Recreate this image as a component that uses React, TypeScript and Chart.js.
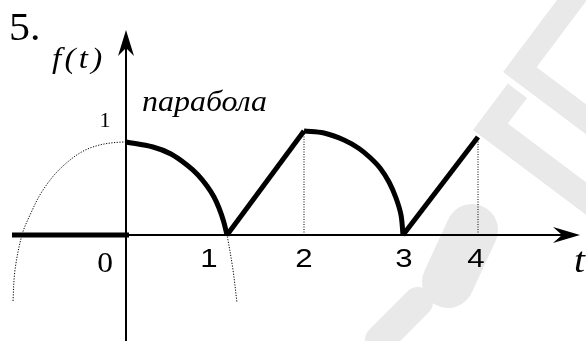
import { useEffect, useRef } from 'react';
import { Chart, registerables } from 'chart.js';

Chart.register(...registerables);

// ---- data (x, y in drawing units; t-ticks) ----
const TICK_POSITIONS = [0, 1.01, 1.78, 2.77, 3.52];
const TICK_LABELS = ['0', '1', '2', '3', '4'];
const Y_TICK_VALUE = 0.93;
const Y_TICK_LABEL = '1';

const ZERO_SEGMENT = [
  { x: -1.14, y: 0 },
  { x: 0.03, y: 0 },
];
const ARC_1 = [
  { x: 0, y: 0.93 },
  { x: 0.27, y: 0.88 },
  { x: 0.45, y: 0.81 },
  { x: 0.61, y: 0.7 },
  { x: 0.72, y: 0.6 },
  { x: 0.81, y: 0.49 },
  { x: 0.88, y: 0.38 },
  { x: 0.93, y: 0.27 },
  { x: 0.975, y: 0.14 },
  { x: 1.01, y: 0 },
];
const RAMP_1 = [
  { x: 1.01, y: 0 },
  { x: 1.78, y: 1.04 },
];
const ARC_2 = [
  { x: 1.78, y: 1.04 },
  { x: 1.98, y: 1.02 },
  { x: 2.18, y: 0.95 },
  { x: 2.33, y: 0.865 },
  { x: 2.44, y: 0.775 },
  { x: 2.54, y: 0.67 },
  { x: 2.63, y: 0.53 },
  { x: 2.7, y: 0.37 },
  { x: 2.75, y: 0.2 },
  { x: 2.77, y: 0 },
];
const RAMP_2 = [
  { x: 2.77, y: 0 },
  { x: 3.52, y: 0.98 },
];
const PARABOLA_DOTTED = [
  { x: -1.13, y: -0.66 },
  { x: -1.11, y: -0.35 },
  { x: -1.04, y: 0 },
  { x: -0.96, y: 0.2 },
  { x: -0.83, y: 0.45 },
  { x: -0.63, y: 0.69 },
  { x: -0.36, y: 0.87 },
  { x: 0, y: 0.93 },
  { x: 0.27, y: 0.88 },
  { x: 0.45, y: 0.81 },
  { x: 0.61, y: 0.7 },
  { x: 0.72, y: 0.6 },
  { x: 0.81, y: 0.49 },
  { x: 0.88, y: 0.38 },
  { x: 0.93, y: 0.27 },
  { x: 0.975, y: 0.14 },
  { x: 1.01, y: 0 },
  { x: 1.07, y: -0.35 },
  { x: 1.11, y: -0.68 },
];
const GUIDE_2 = [
  { x: 1.78, y: 0 },
  { x: 1.78, y: 1.04 },
];
const GUIDE_4 = [
  { x: 3.52, y: 0 },
  { x: 3.52, y: 0.98 },
];
const X_AXIS_RANGE = [-1.14, 4.54];
const Y_AXIS_RANGE = [-1.06, 2.05];

const SERIF = '"Liberation Serif", "Times New Roman", serif';
const SANS = '"Liberation Sans", Arial, sans-serif';

// ---- helpers ----
function drawText(
  ctx: CanvasRenderingContext2D,
  text: string,
  x: number,
  y: number,
  font: string,
  align: CanvasTextAlign,
  sx = 1,
  width?: number,
  spacing = 0,
) {
  ctx.save();
  ctx.font = font;
  ctx.fillStyle = '#000';
  ctx.textBaseline = 'alphabetic';
  ctx.textAlign = align;
  (ctx as any).letterSpacing = `${spacing}px`;
  let scaleX = sx;
  if (width) {
    const w = ctx.measureText(text).width;
    scaleX = width / w;
  }
  ctx.translate(x, y);
  ctx.scale(scaleX, 1);
  ctx.fillText(text, 0, 0);
  ctx.restore();
}

function lShape(
  ctx: CanvasRenderingContext2D,
  ox: number,
  oy: number,
  l1: number,
  l2: number,
  w1: number,
  w2: number,
) {
  const u = [0.6, -0.8];
  const d = [0.8, 0.6];
  const P = (a: number, b: number) => [ox + a * u[0] + b * d[0], oy + a * u[1] + b * d[1]];
  const pts = [P(0, 0), P(l1, 0), P(l1, w1), P(w2, w1), P(w2, l2), P(0, l2)];
  ctx.beginPath();
  ctx.moveTo(pts[0][0], pts[0][1]);
  for (let i = 1; i < pts.length; i++) ctx.lineTo(pts[i][0], pts[i][1]);
  ctx.closePath();
  ctx.fill();
}

const watermarkPlugin = {
  id: 'watermark',
  beforeDraw(chart: Chart) {
    const ctx = chart.ctx;
    ctx.save();
    ctx.fillStyle = '#e9e9e9';
    ctx.strokeStyle = '#e9e9e9';
    lShape(ctx, 503, 72, 110, 160, 24, 24);
    lShape(ctx, 473, 130, 58, 160, 24, 26);
    ctx.lineCap = 'round';
    ctx.lineWidth = 52;
    ctx.beginPath();
    ctx.moveTo(448, 282);
    ctx.lineTo(472, 230);
    ctx.stroke();
    ctx.lineWidth = 30;
    ctx.beginPath();
    ctx.moveTo(380, 340);
    ctx.lineTo(418, 302);
    ctx.stroke();
    ctx.restore();
  },
};

const axesPlugin = {
  id: 'axesArrows',
  beforeDatasetsDraw(chart: Chart) {
    const ctx = chart.ctx;
    const xs = chart.scales.x;
    const ys = chart.scales.y;
    const x0 = xs.getPixelForValue(0);
    const y0 = ys.getPixelForValue(0);
    const xa = xs.getPixelForValue(X_AXIS_RANGE[0]);
    const xb = xs.getPixelForValue(X_AXIS_RANGE[1]);
    const ya = ys.getPixelForValue(Y_AXIS_RANGE[0]);
    const yb = ys.getPixelForValue(Y_AXIS_RANGE[1]);
    ctx.save();
    ctx.strokeStyle = '#000';
    ctx.fillStyle = '#000';
    ctx.lineWidth = 2;
    ctx.beginPath();
    ctx.moveTo(xa, y0);
    ctx.lineTo(xb - 10, y0);
    ctx.moveTo(x0, ya);
    ctx.lineTo(x0, yb + 10);
    ctx.stroke();
    // x arrow head
    ctx.beginPath();
    ctx.moveTo(xb, y0);
    ctx.lineTo(xb - 27, y0 - 8);
    ctx.lineTo(xb - 18, y0);
    ctx.lineTo(xb - 27, y0 + 8);
    ctx.closePath();
    ctx.fill();
    // y arrow head
    ctx.beginPath();
    ctx.moveTo(x0, yb);
    ctx.lineTo(x0 - 8, yb + 26);
    ctx.lineTo(x0, yb + 18);
    ctx.lineTo(x0 + 8, yb + 26);
    ctx.closePath();
    ctx.fill();
    ctx.restore();
  },
};

const textPlugin = {
  id: 'figureText',
  afterDraw(chart: Chart) {
    const ctx = chart.ctx;
    const xs = chart.scales.x;
    const ys = chart.scales.y;
    const y0 = ys.getPixelForValue(0);
    const labelDx = [-21, -18, 0, 1, -2];
    TICK_LABELS.forEach((lab, i) => {
      const px = xs.getPixelForValue(TICK_POSITIONS[i]) + labelDx[i];
      if (i === 0) {
        drawText(ctx, lab, px, y0 + 37, `30px ${SERIF}`, 'center', 1.05);
      } else {
        drawText(ctx, lab, px, y0 + 32, `26px ${SANS}`, 'center', 1.2);
      }
    });
    const x0 = xs.getPixelForValue(0);
    drawText(ctx, Y_TICK_LABEL, x0 - 21, ys.getPixelForValue(Y_TICK_VALUE) - 15, `21px ${SERIF}`, 'center', 1.05);
    drawText(ctx, '5.', 9, 40, `40px ${SERIF}`, 'left', 1.05);
    drawText(ctx, 'f(t)', 52, 68, `italic 30px ${SERIF}`, 'left', 1.1, undefined, 3);
    drawText(ctx, 'парабола', 142, 111, `italic 29px ${SERIF}`, 'left', 1, 125);
    drawText(ctx, 't', xs.getPixelForValue(X_AXIS_RANGE[1]) - 6, y0 + 37, `italic 36px ${SERIF}`, 'left', 1.1);
  },
};

function line(data: { x: number; y: number }[], width: number, curve = false, dash: number[] = []) {
  return {
    data,
    showLine: true,
    borderColor: '#000',
    backgroundColor: '#000',
    borderWidth: width,
    borderDash: dash,
    pointRadius: 0,
    pointHoverRadius: 0,
    fill: false,
    tension: curve ? 0.35 : 0,
    cubicInterpolationMode: 'default' as const,
    borderCapStyle: 'butt' as const,
    borderJoinStyle: 'round' as const,
  };
}

export default function App() {
  const ref = useRef<HTMLCanvasElement | null>(null);
  useEffect(() => {
    document.body.style.margin = '0';
    if (!ref.current) return;
    const chart = new Chart(ref.current, {
      type: 'scatter',
      data: {
        datasets: [
          line(GUIDE_2, 1, false, [1, 1.5]),
          line(GUIDE_4, 1, false, [1, 1.5]),
          line(PARABOLA_DOTTED, 1, true, [1.2, 1.5]),
          line(ZERO_SEGMENT, 5),
          line(ARC_1, 5, true),
          line(RAMP_1, 5),
          line(ARC_2, 5, true),
          line(RAMP_2, 5),
        ],
      },
      options: {
        animation: false,
        responsive: true,
        maintainAspectRatio: false,
        layout: { padding: 0 },
        events: [],
        plugins: {
          legend: { display: false },
          tooltip: { enabled: false },
          title: { display: false },
        },
        scales: {
          x: { type: 'linear', min: -1.26, max: 4.6, display: false },
          y: { type: 'linear', min: -1.06, max: 2.35, display: false },
        },
      },
      plugins: [watermarkPlugin, axesPlugin, textPlugin],
    });
    return () => chart.destroy();
  }, []);
  return (
    <div style={{ position: 'fixed', left: 0, top: 0, width: 586, height: 341, background: '#fff' }}>
      <canvas ref={ref} />
    </div>
  );
}
